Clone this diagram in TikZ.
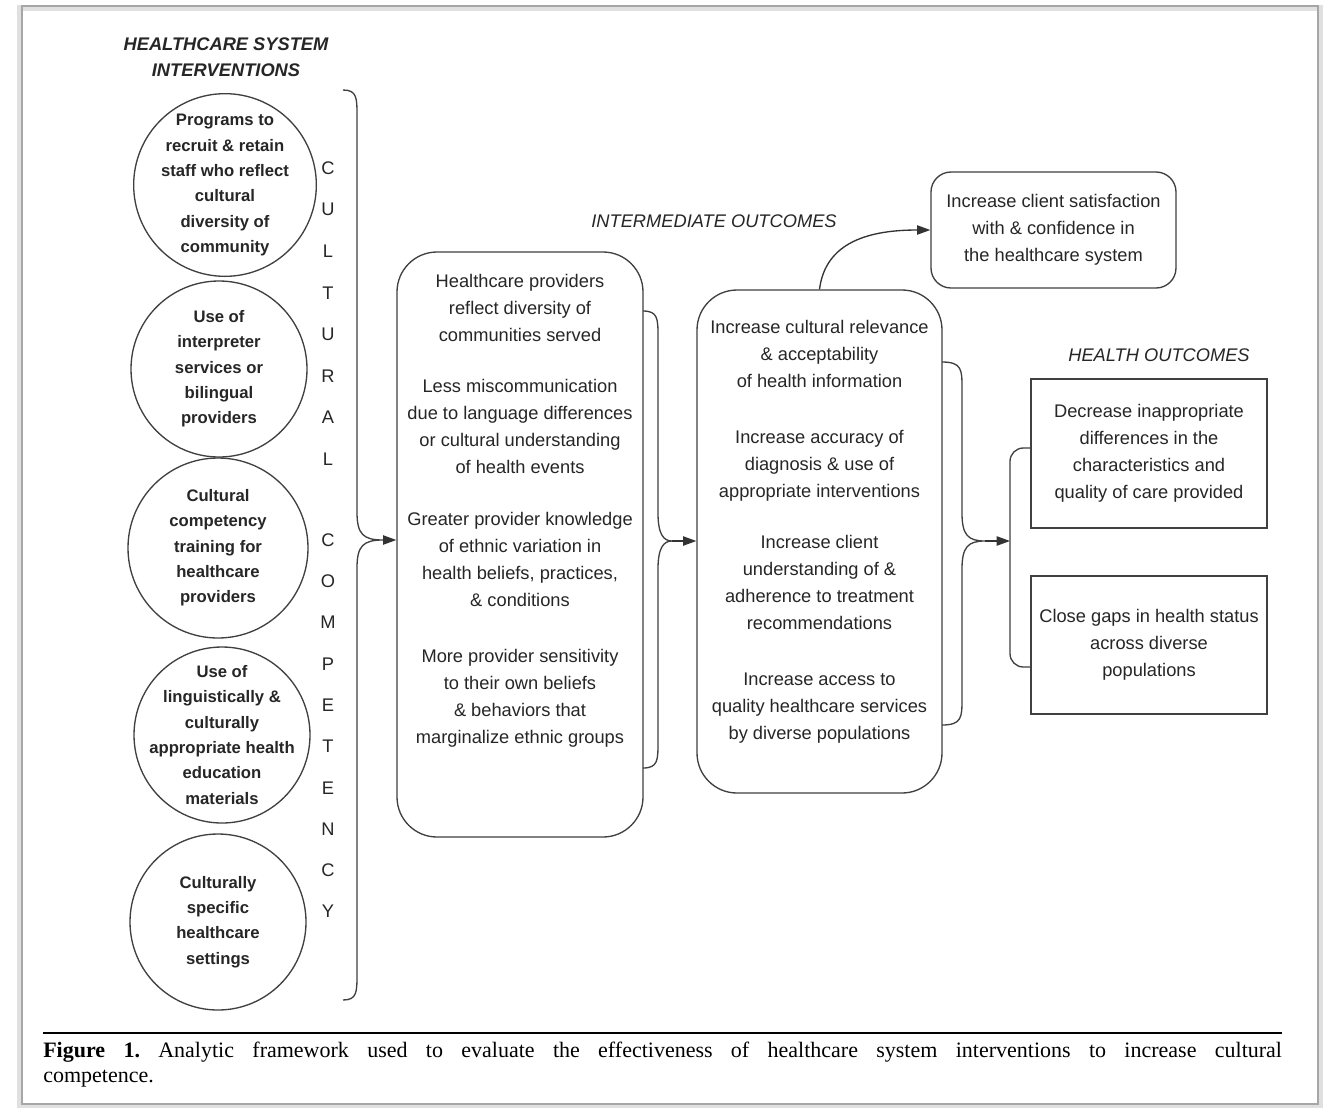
\documentclass[tikz,border=0pt]{standalone}
\usepackage{fontspec}
\setmainfont{Liberation Serif}
\setsansfont{Liberation Sans}
\usetikzlibrary{arrows.meta}

% x0, x1 (straight part), x2 (tip), top, middle, bottom, name of tip
\newcommand{\sidebrace}[7]{%
	\draw[bracepath] (#1,#4) .. controls (#2,#4) and (#2,#4+8) .. (#2,#4+26)
	-- (#2,#5-28) .. controls (#2,#5-6) and (#2+6,#5) .. (#3,#5)
	.. controls (#2+6,#5) and (#2,#5+6) .. (#2,#5+28)
	-- (#2,#6-26) .. controls (#2,#6-8) and (#2,#6) .. (#1,#6) ;
	\coordinate (#7) at (#3,#5) ;}

\begin{document}
\begin{tikzpicture}[x=0.75pt,y=-0.75pt,
	interv/.style={circle,draw=black!75,line width=1pt,minimum size=132pt,inner sep=-14pt,align=center,text=black!85,font=\sffamily\bfseries\fontsize{12.5}{19}\selectfont},
	outbox/.style={draw=black!75,line width=1pt,rounded corners=30pt,inner sep=0pt},
	sqbox/.style={draw=black!75,line width=1pt,inner sep=0pt,align=center,text=black!85,font=\sffamily\fontsize{13.7}{20.25}\selectfont},
	outtext/.style={align=center,inner sep=0pt,text=black!85,font=\sffamily\fontsize{13.7}{20.25}\selectfont},
	heading/.style={align=center,inner sep=0pt,text=black!85,font=\sffamily\itshape\fontsize{13.7}{19.5}\selectfont},
	vletter/.style={inner sep=0pt,text=black!85,font=\sffamily\fontsize{13.7}{16}\selectfont},
	bracepath/.style={draw=black!75,line width=1pt},
	flow/.style={draw=black!80,line width=1pt,-{Triangle[length=10pt,width=7pt]}},
	caption/.style={inner sep=0pt,text width=929pt,align=justify,font=\frenchspacing\fontsize{16.5}{18.75}\selectfont}]
	\useasboundingbox (0,0) rectangle (1324,1107) ;
	\fill[white] (0,0) rectangle (1324,1107) ;
	\draw[black!12,line width=4pt] (20,8) rectangle (1320,1106) ;
	\draw[black!35,line width=0.8pt] (22,6) rectangle (1318,1104) ;

	\node [heading,font=\sffamily\bfseries\itshape\fontsize{13.7}{19.5}\selectfont] (hsi) at (226,57) {HEALTHCARE SYSTEM\\INTERVENTIONS} ;
	\node [heading] (imo) at (714,221) {INTERMEDIATE OUTCOMES} ;
	\node [heading] (hoc) at (1159,355) {HEALTH OUTCOMES} ;

	\node [interv,minimum size=137pt] (recruit) at (225,185) {Programs to\\recruit \& retain\\staff who reflect\\cultural\\diversity of\\community} ;
	\node [interv] (interp) at (219,369) {Use of\\interpreter\\services or\\bilingual\\providers} ;
	\node [interv,minimum size=135pt] (train) at (218,548) {Cultural\\competency\\training for\\healthcare\\providers} ;
	\node [interv] (materials) at (222,735) {Use of\\linguistically \&\\culturally\\appropriate health\\education\\materials} ;
	\node [interv] (settings) at (218,922) {Culturally\\specific\\healthcare\\settings} ;

	\foreach \ch [count=\i from 0] in {C,U,L,T,U,R,A,L}
		\node [vletter] (cul\i) at (328,168+41.6*\i) {\ch} ;
	\foreach \ch [count=\i from 0] in {C,O,M,P,E,T,E,N,C,Y}
		\node [vletter] (comp\i) at (328,540+41.3*\i) {\ch} ;

	\sidebrace{343}{357}{383}{90}{540}{1000}{tipA}

	\node [outbox,minimum width=184.5pt,minimum height=438.75pt] (prov) at (520,544.5) {} ;
	\node [outtext] (provtxt) at (520,511) {Healthcare providers\\reflect diversity of\\communities served\\[18pt]
		Less miscommunication\\due to language differences\\or cultural understanding\\of health events\\[18.75pt]
		Greater provider knowledge\\of ethnic variation in\\health beliefs, practices,\\\& conditions\\[21.75pt]
		More provider sensitivity\\to their own beliefs\\\& behaviors that\\marginalize ethnic groups} ;

	\sidebrace{643}{658}{672}{311}{541}{768}{tipB}

	\node [outbox,minimum width=183.75pt,minimum height=377.25pt] (gain) at (819.5,541.5) {} ;
	\node [outtext] (gaintxt) at (819.5,532) {Increase cultural relevance\\\& acceptability\\of health information\\[21.75pt]
		Increase accuracy of\\diagnosis \& use of\\appropriate interventions\\[18pt]
		Increase client\\understanding of \&\\adherence to treatment\\recommendations\\[21.75pt]
		Increase access to\\quality healthcare services\\by diverse populations} ;

	\node [sqbox,rounded corners=15pt,minimum width=183.75pt,minimum height=87pt] (satis) at (1053.5,230) {Increase client satisfaction\\with \& confidence in\\the healthcare system} ;

	\sidebrace{942}{962}{985}{362}{541}{725}{tipC}

	\coordinate (brk) at (1010,541) ;
	\draw[bracepath,rounded corners=10pt] (1031,448) -- (1010,448) -- (1010,667) -- (1031,667) ;

	\node [sqbox,minimum width=177pt,minimum height=111.75pt] (disp) at (1149,453.5) {Decrease inappropriate\\differences in the\\characteristics and\\quality of care provided} ;
	\node [sqbox,minimum width=177pt,minimum height=103.5pt] (gaps) at (1149,645) {Close gaps in health status\\across diverse\\populations} ;

	\draw[flow] (tipA) -- (tipA -| prov.west) ;
	\draw[flow] (tipB) -- (tipB -| gain.west) ;
	\draw[flow] (tipC) -- (brk) ;
	\draw[flow] (gain.north) .. controls +(6,-48) and +(-60,0) .. (satis.west) ;

	\draw[line width=2.2pt] (43,1033) -- (1282,1033) ;
	\node [caption,anchor=north west] (capt) at (43,1042) {\textbf{Figure~1.} Analytic framework used to evaluate the effectiveness of healthcare system interventions to increase cultural\linebreak competence.} ;
\end{tikzpicture}
\end{document}
